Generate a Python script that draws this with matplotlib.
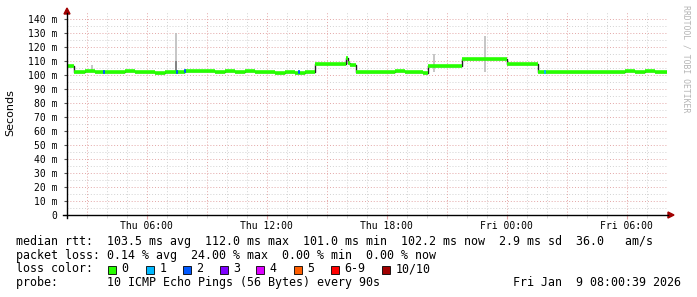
import matplotlib
matplotlib.use("Agg")
import matplotlib.pyplot as plt
from matplotlib.patches import Rectangle, Polygon
from matplotlib.lines import Line2D

W, H = 697, 297

# ---- data (clock hours since Thu 00:00, median rtt in ms) ----
rtt_time = [2.01, 2.36, 2.9, 3.4, 3.9, 4.4, 4.9, 5.4, 5.9, 6.4, 6.9, 7.4, 7.9, 8.4, 8.9,
            9.4, 9.9, 10.4, 10.9, 11.4, 11.9, 12.4, 12.9, 13.4, 13.9,
            14.41, 15.98, 16.06, 16.14, 16.46,
            16.9, 17.4, 17.9, 18.4, 18.9, 19.4, 19.8,
            20.06, 21.76, 24.01, 25.56,
            25.9, 26.4, 26.9, 27.4, 27.9, 28.4, 28.9, 29.4, 29.9, 30.4, 30.9, 31.4, 32.01]
rtt_ms = [106.2, 102.4, 102.6, 102.2, 102.5, 102.3, 102.7, 102.4, 102.1, 101.6, 101.9, 102.3, 102.6, 102.8, 102.6,
          102.5, 102.7, 102.4, 102.6, 102.5, 101.9, 101.7, 102.0, 101.6, 101.9,
          107.6, 111.8, 108.3, 107.5, 102.2,
          102.5, 102.1, 102.4, 102.6, 102.0, 101.8, 101.5,
          106.5, 111.3, 107.6, 101.9,
          102.2, 102.5, 102.0, 102.4, 102.2, 101.8, 102.1, 102.4, 102.6, 102.5, 102.7, 102.4, 102.4]

smoke_time = [3.26, 7.46, 20.36, 22.91]
smoke_top = [107, 130, 115, 128]

loss_time = [3.81, 7.46, 7.86, 13.56, 25.86]
loss_val = [101.8, 102.2, 102.6, 101.8, 101.8]
loss_cls = [2, 2, 2, 2, 1]

loss_labels = ["0", "1", "2", "3", "4", "5", "6-9", "10/10"]
loss_colors = ["#26ff00", "#00b8ff", "#0059ff", "#7e00ff", "#dd00ff", "#ff5e00", "#ff0000", "#a10000"]

x_ticks = [6, 12, 18, 24, 30]
x_labels = ["Thu 06:00", "Thu 12:00", "Thu 18:00", "Fri 00:00", "Fri 06:00"]
y_ticks = [0, 10, 20, 30, 40, 50, 60, 70, 80, 90, 100, 110, 120, 130, 140]
y_labels = ["0"] + ["%d m" % v for v in y_ticks[1:]]

stats_line = "median rtt:  103.5 ms avg  112.0 ms max  101.0 ms min  102.2 ms now  2.9 ms sd  36.0   am/s"
loss_line = "packet loss: 0.14 % avg  24.00 % max  0.00 % min  0.00 % now"
probe_line = "probe:       10 ICMP Echo Pings (56 Bytes) every 90s"
stamp = "Fri Jan  9 08:00:39 2026"

MONO = "DejaVu Sans Mono"
PINK = "#e3a6a6"
GREY = "#d2d2d2"
AXRED = "#a00000"


def fx(px):
    return px / W


def fy(py):
    return 1 - py / H


fig = plt.figure(figsize=(W / 100, H / 100), dpi=100)
ax = fig.add_axes([fx(67), fy(215), 600 / W, 203 / H])
ax.set_xlim(2.0108, 32.0108)
ax.set_ylim(0, 145)
for s in ax.spines.values():
    s.set_visible(False)

# grid
for v in range(5, 145, 5):
    ax.axhline(v, color=PINK if v % 10 == 0 else GREY, lw=0.7, ls=(0, (1, 2)), zorder=0)
for h in range(3, 33):
    ax.axvline(h, color=PINK if h % 3 == 0 else GREY, lw=0.7, ls=(0, (1, 2)), zorder=0)

# smoke spikes
for t, top in zip(smoke_time, smoke_top):
    ax.vlines(t, 102, top, color="#bcbcbc", lw=1.2, zorder=1)
ax.vlines(smoke_time[1], 102, 110, color="#777777", lw=1.2, zorder=1)

# median line
ax.step(rtt_time, rtt_ms, where="post", color="#222222", lw=1.0, zorder=2)
ax.hlines(rtt_ms[:-1], rtt_time[:-1], rtt_time[1:], color=loss_colors[0], lw=2.6, zorder=3)
for t, v, c in zip(loss_time, loss_val, loss_cls):
    ax.plot([t, t + 0.08], [v, v], color=loss_colors[c], lw=2.6, zorder=4, solid_capstyle="butt")

# ticks
ax.set_xticks(x_ticks)
ax.set_xticklabels(x_labels, fontsize=7, family=MONO)
ax.set_xticks(range(3, 33), minor=True)
ax.tick_params(axis="x", which="major", length=3, color=PINK, pad=1)
ax.tick_params(axis="x", which="minor", length=2, color=GREY)
ax.set_yticks(y_ticks)
ax.set_yticklabels(y_labels, fontsize=7, family=MONO)
ax.tick_params(axis="y", length=2, color="#555555", pad=5)

# axes lines with arrows
fig.add_artist(Line2D([fx(63), fx(668)], [fy(215), fy(215)], color="black", lw=1.0, transform=fig.transFigure))
fig.add_artist(Line2D([fx(67), fx(67)], [fy(218), fy(13)], color="black", lw=1.0, transform=fig.transFigure))
fig.add_artist(Polygon([[fx(668), fy(212)], [fx(674), fy(215)], [fx(668), fy(218)]],
                       closed=True, color=AXRED, transform=fig.transFigure))
fig.add_artist(Polygon([[fx(64), fy(14)], [fx(67), fy(8)], [fx(70), fy(14)]],
                       closed=True, color=AXRED, transform=fig.transFigure))

fig.text(fx(10), fy(113), "Seconds", rotation=90, ha="center", va="center", fontsize=8, family="DejaVu Sans")
fig.text(fx(686), fy(5), "RRDTOOL / TOBI OETIKER", rotation=270, ha="center", va="top",
         fontsize=5.9, family=MONO, color="#b4b4b4")

# legend rows
fig.text(fx(16), fy(245.5), stats_line, fontsize=8.4, family=MONO, va="baseline")
fig.text(fx(16), fy(259), loss_line, fontsize=8.4, family=MONO, va="baseline")
fig.text(fx(16), fy(272.5), "loss color:", fontsize=8.4, family=MONO, va="baseline")
sq_x = [108, 146, 183, 220, 256, 294, 331, 382]
for px, lab, col in zip(sq_x, loss_labels, loss_colors):
    fig.add_artist(Rectangle((fx(px), fy(274)), 8 / W, 8 / H, facecolor=col, edgecolor="black",
                             lw=0.6, transform=fig.transFigure))
    fig.text(fx(px + 13.5), fy(272.5), lab, fontsize=8.4, family=MONO, va="baseline")
fig.text(fx(16), fy(286), probe_line, fontsize=8.4, family=MONO, va="baseline")
fig.text(fx(681), fy(286), stamp, fontsize=8.4, family=MONO, va="baseline", ha="right")

fig.savefig("out.png", dpi=100, facecolor="white")
